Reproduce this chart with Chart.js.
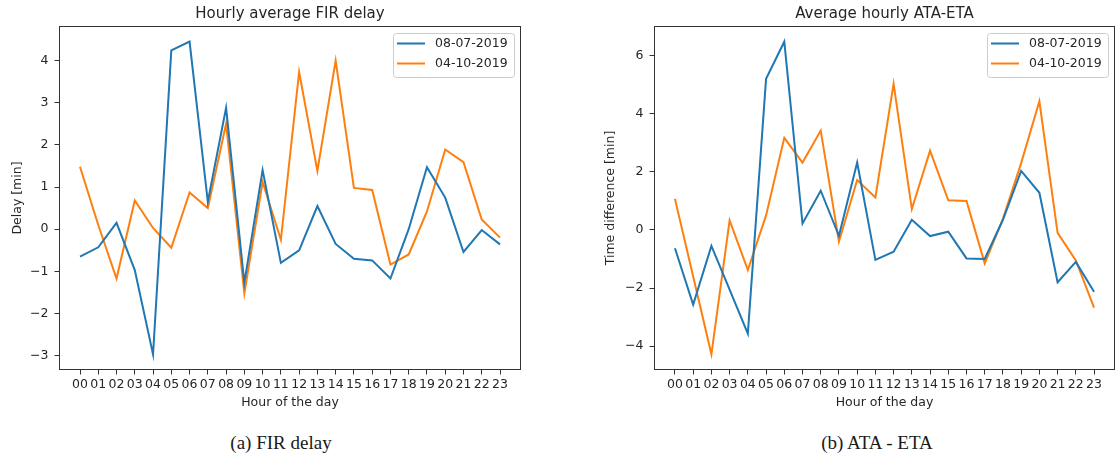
<!DOCTYPE html>
<html>
<head>
<meta charset="utf-8">
<script src="https://cdn.jsdelivr.net/npm/chart.js@4"></script>
<style>
  html, body { margin: 0; padding: 0; background: #fff; overflow: hidden; }
  body { width: 1117px; height: 459px; position: relative; }
  .panel { position: absolute; top: 0; height: 418px; }
  .caption {
    position: absolute; top: 433px;
    font: 19px/19px "Liberation Serif", serif; color: #1a1a1a;
    white-space: nowrap; transform: translateX(-50%);
  }
</style>
</head>
<body>
<div class="panel" style="left:0;width:545px"><canvas id="fir-delay"></canvas></div>
<div class="panel" style="left:560px;width:557px"><canvas id="ata-eta"></canvas></div>
<div class="caption" style="left:281px">(a) FIR delay</div>
<div class="caption" style="left:877px">(b) ATA - ETA</div>
<script>
const hours = ["00", "01", "02", "03", "04", "05", "06", "07", "08", "09", "10", "11",
               "12", "13", "14", "15", "16", "17", "18", "19", "20", "21", "22", "23"];
const dayLabels = ["08-07-2019", "04-10-2019"];

// hourly average FIR delay [min]
const firJuly = [-0.65, -0.43, 0.15, -0.97, -2.97, 4.24, 4.45, 0.65, 2.88, -1.27, 1.40, -0.80,
                 -0.50, 0.55, -0.35, -0.70, -0.74, -1.17, 0.00, 1.47, 0.75, -0.54, -0.02, -0.36];
const firOct = [1.48, 0.10, -1.17, 0.68, 0.03, -0.44, 0.87, 0.50, 2.50, -1.52, 1.12, -0.25,
                3.73, 1.38, 4.00, 0.98, 0.93, -0.84, -0.60, 0.42, 1.89, 1.59, 0.23, -0.20];

// average hourly ATA-ETA [min]
const etaJuly = [-0.63, -2.57, -0.55, -2.05, -3.57, 5.20, 6.48, 0.22, 1.35, -0.20, 2.32, -1.03,
                 -0.75, 0.35, -0.21, -0.06, -0.98, -1.00, 0.35, 2.03, 1.28, -1.80, -1.10, -2.13];
const etaOct = [1.07, -1.60, -4.28, 0.33, -1.38, 0.50, 3.17, 2.32, 3.42, -0.40, 1.72, 1.12,
                5.03, 0.72, 2.73, 1.02, 1.00, -1.15, 0.38, 2.30, 4.43, -0.10, -1.05, -2.67];

const firTicks = [-3, -2, -1, 0, 1, 2, 3, 4];
const etaTicks = [-4, -2, 0, 2, 4, 6];

const colors = ["#1f77b4", "#ff7f0e"];
const ink = "#262626";

Chart.defaults.font.family = '"DejaVu Sans", sans-serif';
Chart.defaults.font.size = 12.5;
Chart.defaults.color = ink;

/* ---------- frame + legend inside the axes ---------- */

const frameAndLegend = {
  id: "frameAndLegend",
  afterDatasetsDraw(chart) {
    const { ctx, chartArea: a } = chart;
    ctx.save();
    ctx.strokeStyle = "#333";
    ctx.lineWidth = 1;
    ctx.strokeRect(Math.round(a.left) + 0.5, Math.round(a.top) + 0.5,
                   Math.round(a.right - a.left) - 1, Math.round(a.bottom - a.top) - 1);

    ctx.font = '12.5px "DejaVu Sans", sans-serif';
    const sets = chart.data.datasets;
    const textW = Math.max(...sets.map(d => ctx.measureText(d.label).width));
    const w = Math.round(42 + textW + 6), h = 44;
    const x = Math.round(a.right - 7 - w), y = Math.round(a.top + 7);
    ctx.beginPath();
    ctx.roundRect(x + 0.5, y + 0.5, w, h, 3);
    ctx.fillStyle = "rgba(255,255,255,0.8)";
    ctx.fill();
    ctx.strokeStyle = "#cccccc";
    ctx.stroke();

    sets.forEach((d, i) => {
      const ly = y + 10.5 + i * 20;
      ctx.strokeStyle = d.borderColor;
      ctx.lineWidth = 2;
      ctx.beginPath();
      ctx.moveTo(x + 4, ly);
      ctx.lineTo(x + 32, ly);
      ctx.stroke();
      ctx.fillStyle = ink;
      ctx.textAlign = "left";
      ctx.textBaseline = "middle";
      ctx.fillText(d.label, x + 42, ly);
    });
    ctx.restore();
  }
};

/* ---------- charts ---------- */

const panels = [
  {
    canvas: "fir-delay", title: "Hourly average FIR delay", yTitle: "Delay [min]",
    series: [firJuly, firOct], yTicks: firTicks, yMin: -3.34, yMax: 4.82,
    left: 59, right: 24, yTitlePad: 10
  },
  {
    canvas: "ata-eta", title: "Average hourly ATA-ETA", yTitle: "Time difference [min]",
    series: [etaJuly, etaOct], yTicks: etaTicks, yMin: -4.82, yMax: 7.02,
    left: 94, right: 2, yTitlePad: 43.5
  }
];

function createChart(p) {
  const canvas = document.getElementById(p.canvas);
  new Chart(canvas, {
    type: "line",
    data: {
      datasets: p.series.map((vals, k) => ({
        label: dayLabels[k],
        data: vals.map((v, i) => ({ x: i, y: v })),
        borderColor: colors[k],
        backgroundColor: colors[k],
        borderWidth: 2,
        pointRadius: 0,
        tension: 0,
        fill: false
      }))
    },
    options: {
      responsive: true,
      maintainAspectRatio: false,
      animation: false,
      layout: { padding: { left: 0, right: p.right, top: 0, bottom: 0 } },
      plugins: {
        legend: { display: false },
        tooltip: { enabled: false },
        title: {
          display: true,
          text: p.title,
          fullSize: false,
          color: ink,
          font: { size: 15, weight: "normal" },
          padding: { top: 5, bottom: 3 }
        }
      },
      scales: {
        x: {
          type: "linear",
          min: -1.15,
          max: 24.15,
          afterBuildTicks: s => { s.ticks = hours.map((h, i) => ({ value: i })); },
          afterFit: s => { s.height = 48; },
          ticks: {
            callback: v => hours[v],
            autoSkip: false, maxRotation: 0, minRotation: 0, padding: 3, color: ink
          },
          grid: { drawOnChartArea: false, tickLength: 4.5, color: "#333" },
          border: { display: false },
          title: {
            display: true, text: "Hour of the day", color: ink,
            padding: { top: 0, bottom: 7.5 }
          }
        },
        y: {
          min: p.yMin,
          max: p.yMax,
          afterBuildTicks: s => { s.ticks = p.yTicks.map(v => ({ value: v })); },
          afterFit: s => { s.width = p.left; },
          ticks: {
            callback: v => String(v).replace("-", "\u2212"),
            padding: 6, color: ink
          },
          grid: { drawOnChartArea: false, tickLength: 4.5, color: "#333" },
          border: { display: false },
          title: {
            display: true, text: p.yTitle, color: ink,
            padding: { top: p.yTitlePad, bottom: 0 }
          }
        }
      }
    },
    plugins: [frameAndLegend]
  });
}

panels.forEach(createChart);
</script>
</body>
</html>
